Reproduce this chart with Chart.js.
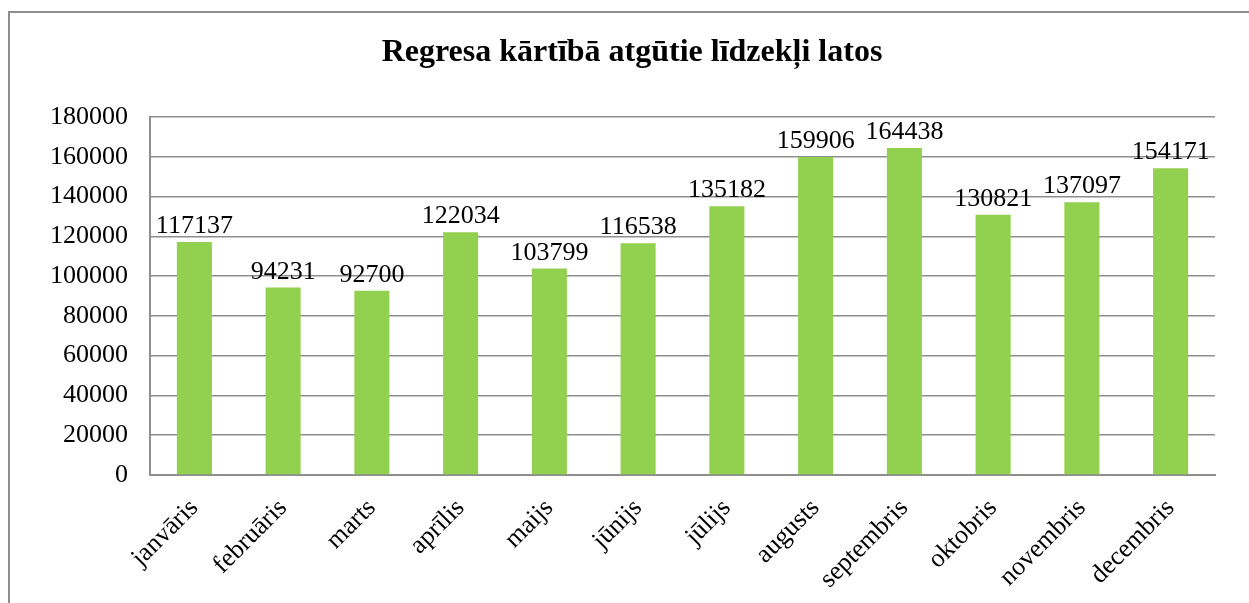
<!DOCTYPE html>
<html>
<head>
<meta charset="utf-8">
<script src="https://cdn.jsdelivr.net/npm/chart.js@4"></script>
<style>
  html, body { margin: 0; padding: 0; background: #fff; overflow: hidden; }
  #frame {
    position: absolute; left: 8px; top: 11px; width: 1300px; height: 700px;
    border-left: 2px solid #8e8e8e; border-top: 2px solid #8e8e8e;
  }
  #wrap { position: absolute; left: 0; top: 0; width: 1265px; height: 603px; }
</style>
</head>
<body>
<div id="frame"></div>
<div id="wrap"><canvas id="barChart" width="1265" height="603"></canvas></div>
<script>
// months and values
const months = ["janvāris", "februāris", "marts", "aprīlis", "maijs", "jūnijs",
  "jūlijs", "augusts", "septembris", "oktobris", "novembris", "decembris"];
const amounts = [117137, 94231, 92700, 122034, 103799, 116538,
  135182, 159906, 164438, 130821, 137097, 154171];
const yTicks = [0, 20000, 40000, 60000, 80000, 100000, 120000, 140000, 160000, 180000];

const serif = "'Liberation Serif', 'Times New Roman', serif";

// draws the value above each bar
const valueLabels = {
  id: "valueLabels",
  afterDatasetsDraw(chart) {
    const ctx = chart.ctx;
    const meta = chart.getDatasetMeta(0);
    ctx.save();
    ctx.font = "26px " + serif;
    ctx.fillStyle = "#000";
    ctx.textAlign = "center";
    ctx.textBaseline = "alphabetic";
    meta.data.forEach((bar, i) => {
      ctx.fillText(String(chart.data.datasets[0].data[i]), bar.x, bar.y - 9);
    });
    ctx.restore();
  }
};

const barCanvas = document.getElementById("barChart");
new Chart(barCanvas, {
  type: "bar",
  data: {
    labels: months,
    datasets: [{
      data: amounts,
      backgroundColor: "#92d050",
      barPercentage: 0.395,
      categoryPercentage: 1
    }]
  },
  options: {
    responsive: false,
    animation: false,
    // left padding keeps the title centred on the outer frame
    layout: { padding: { left: 49, right: 50, top: 0, bottom: 0 } },
    plugins: {
      legend: { display: false },
      tooltip: { enabled: false },
      title: {
        display: true,
        text: "Regresa kārtībā atgūtie līdzekļi latos",
        color: "#000",
        font: { family: serif, size: 32, weight: "bold" },
        padding: { top: 34, bottom: 44.6 }
      }
    },
    scales: {
      x: {
        grid: { display: false, drawTicks: false },
        border: { color: "#8e8e8e", width: 2 },
        ticks: {
          color: "#000",
          font: { family: serif, size: 26 },
          minRotation: 45,
          maxRotation: 45,
          padding: 18
        },
        afterFit(scale) { scale.height = 128; }
      },
      y: {
        min: 0,
        max: 180000,
        grid: { color: "#8e8e8e", lineWidth: 1.5, drawTicks: false },
        border: { color: "#8e8e8e", width: 2 },
        afterBuildTicks(scale) { scale.ticks = yTicks.map(v => ({ value: v })); },
        ticks: {
          color: "#000",
          font: { family: serif, size: 26 },
          padding: 22,
          callback: v => String(v)
        },
        afterFit(scale) { scale.width = 101; }
      }
    }
  },
  plugins: [valueLabels]
});
</script>
</body>
</html>
